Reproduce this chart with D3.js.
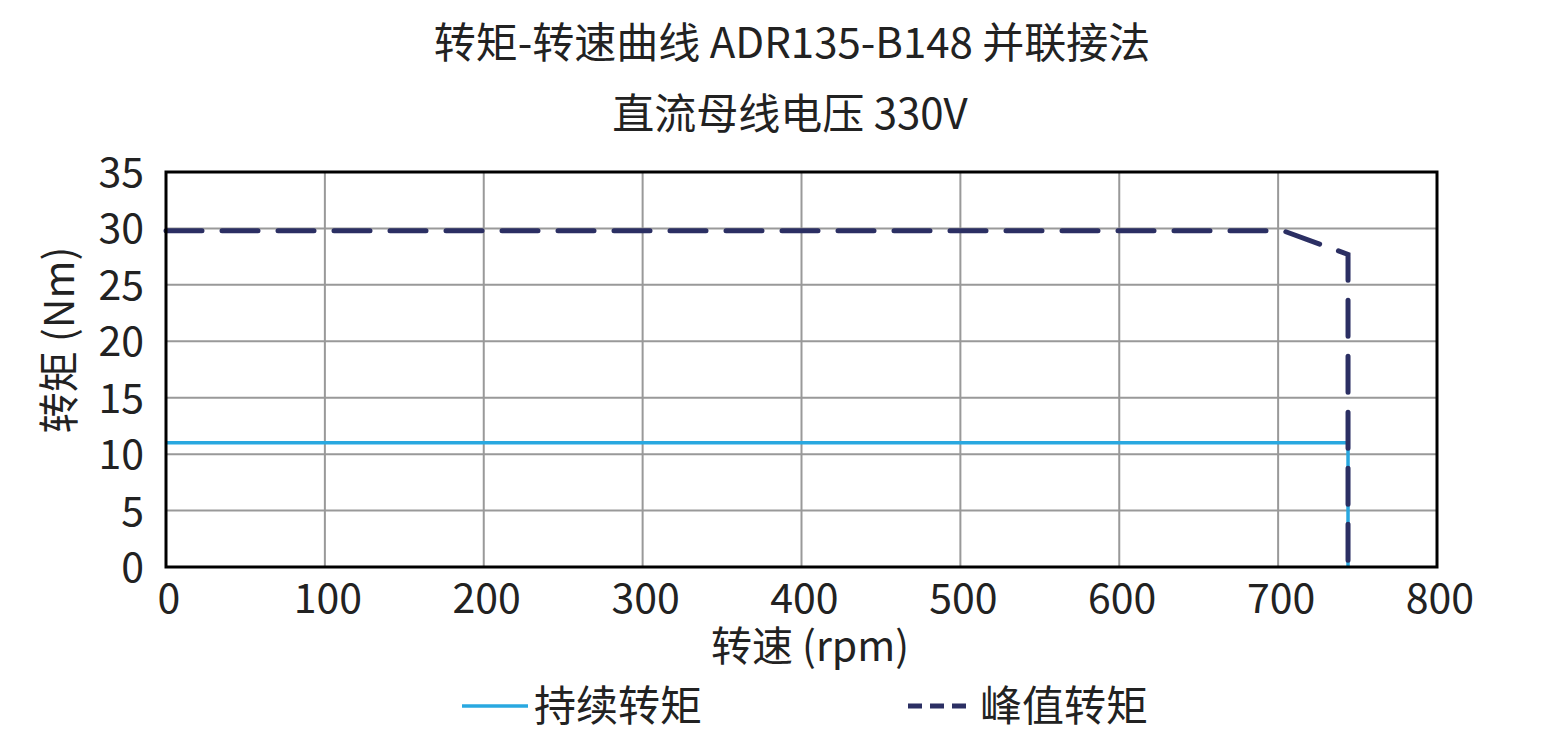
<!DOCTYPE html>
<html><head><meta charset="utf-8">
<script src="https://cdn.jsdelivr.net/npm/d3@7"></script>
<style>body{margin:0;background:#fff;font-family:"Noto Sans CJK SC","Noto Sans",sans-serif;}</style>
</head><body>
<svg id="chart" width="1541" height="753"></svg>
<script>
const contSpeed = [0, 744, 744];
const contTorque = [11, 11, 0];
const peakSpeed = [0, 703, 744, 744];
const peakTorque = [29.8, 29.8, 27.7, 0];
const xTicks = [0, 100, 200, 300, 400, 500, 600, 700, 800];
const yTicks = [0, 5, 10, 15, 20, 25, 30, 35];

const svg = d3.select('#chart');
const m = {l: 166, r: 1437, t: 172, b: 567};
const x = d3.scaleLinear().domain([0, 800]).range([m.l, m.r]);
const y = d3.scaleLinear().domain([0, 35]).range([m.b, m.t]);
const font = '"Noto Sans CJK SC", sans-serif';

// grid
svg.append('g').selectAll('line').data(xTicks).join('line')
  .attr('x1', d => x(d)).attr('x2', d => x(d)).attr('y1', m.t).attr('y2', m.b)
  .attr('stroke', '#999').attr('stroke-width', 2);
svg.append('g').selectAll('line').data(yTicks).join('line')
  .attr('y1', d => y(d)).attr('y2', d => y(d)).attr('x1', m.l).attr('x2', m.r)
  .attr('stroke', '#999').attr('stroke-width', 2);

const line = d3.line().x(d => x(d[0])).y(d => y(d[1]));
svg.append('path').datum(contSpeed.map((s, i) => [s, contTorque[i]]))
  .attr('d', line).attr('fill', 'none').attr('stroke', '#29a8e0').attr('stroke-width', 3.5);
svg.append('path').datum(peakSpeed.map((s, i) => [s, peakTorque[i]]))
  .attr('d', line).attr('fill', 'none').attr('stroke', '#2b2f63').attr('stroke-width', 5)
  .attr('stroke-dasharray', '36,20').attr('stroke-linecap', 'round');

svg.append('rect').attr('x', m.l).attr('y', m.t).attr('width', m.r - m.l).attr('height', m.b - m.t)
  .attr('fill', 'none').attr('stroke', '#000').attr('stroke-width', 3);

// axes labels
svg.append('g').selectAll('text').data(xTicks).join('text')
  .attr('x', d => x(d) + 3).attr('y', 613).attr('text-anchor', 'middle')
  .attr('font-family', font).attr('font-size', 41).attr('fill', '#222').text(d => d);
svg.append('g').selectAll('text').data(yTicks).join('text')
  .attr('x', 144).attr('y', d => y(d) + 15).attr('text-anchor', 'end')
  .attr('font-family', font).attr('font-size', 41).attr('fill', '#222').text(d => d);

svg.append('text').attr('x', 792).attr('y', 58).attr('text-anchor', 'middle')
  .attr('font-family', font).attr('font-size', 42).attr('fill', '#222').text('转矩-转速曲线 ADR135-B148 并联接法');
svg.append('text').attr('x', 790).attr('y', 129).attr('text-anchor', 'middle')
  .attr('font-family', font).attr('font-size', 42).attr('fill', '#222').text('直流母线电压 330V');
svg.append('text').attr('x', 810).attr('y', 661).attr('text-anchor', 'middle')
  .attr('font-family', font).attr('font-size', 41).attr('fill', '#222').text('转速 (rpm)');
svg.append('text').attr('transform', 'translate(74,340) rotate(-90)').attr('text-anchor', 'middle')
  .attr('font-family', font).attr('font-size', 41).attr('fill', '#222').text('转矩 (Nm)');

// legend
svg.append('line').attr('x1', 462).attr('x2', 528).attr('y1', 706).attr('y2', 706)
  .attr('stroke', '#29a8e0').attr('stroke-width', 3.5);
svg.append('text').attr('x', 534).attr('y', 721).attr('font-family', font).attr('font-size', 42)
  .attr('fill', '#222').text('持续转矩');
svg.append('line').attr('x1', 908).attr('x2', 974).attr('y1', 706).attr('y2', 706)
  .attr('stroke', '#2b2f63').attr('stroke-width', 5).attr('stroke-dasharray', '14,8');
svg.append('text').attr('x', 980).attr('y', 721).attr('font-family', font).attr('font-size', 42)
  .attr('fill', '#222').text('峰值转矩');
</script>
</body></html>
